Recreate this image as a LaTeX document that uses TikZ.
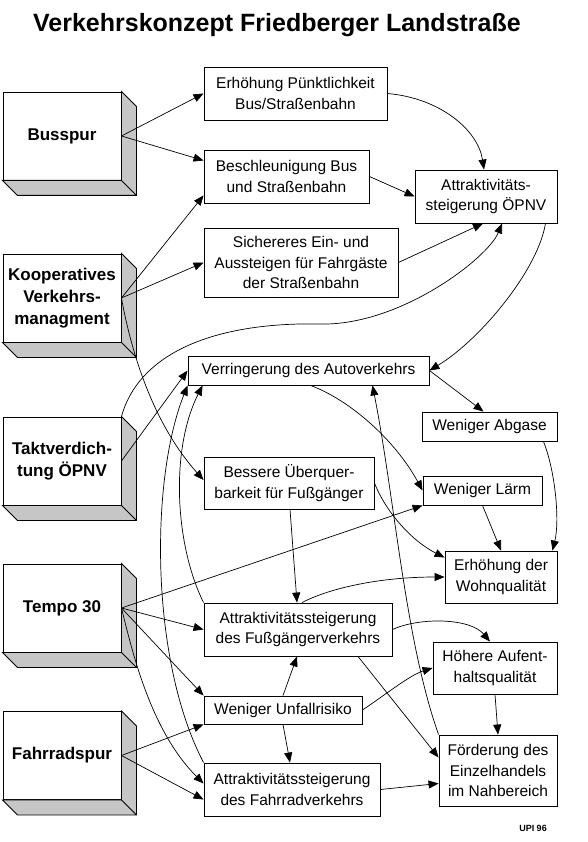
\documentclass[tikz,border=0pt]{standalone}
\usepackage{fontspec}
\setmainfont{Liberation Sans}
\usetikzlibrary{arrows.meta,calc}

\begin{document}
\begin{tikzpicture}[x=1pt,y=-1pt,
  measure/.style={draw,fill=white,line width=0.9pt,minimum width=118pt,minimum height=88pt,inner sep=0pt,align=center,font=\bfseries\fontsize{17}{22}\selectfont},
  effect/.style={draw,fill=white,line width=0.9pt,inner sep=0pt,align=center,font=\fontsize{15.5}{20.5}\selectfont},
  side/.style={draw,fill=gray!45,line width=0.9pt},
  link/.style={line width=0.7pt,-{Triangle[length=10pt,width=8pt]}}]
\useasboundingbox (0,0) rectangle (587,842);
\node[anchor=base,font=\bfseries\fontsize{25}{30}\selectfont] (title) at (277,32) {Verkehrskonzept Friedberger Landstraße};
\node[measure] (bus) at (62,136) {Busspur};
\node[measure] (koop) at (62,298) {Kooperatives\\Verkehrs-\\managment};
\node[measure] (takt) at (62,461) {Taktverdich-\\tung ÖPNV};
\node[measure] (tempo) at (62,608) {Tempo 30};
\node[measure] (rad) at (62,755.5) {Fahrradspur};
\foreach \n in {bus,koop,takt,tempo,rad}
  \draw[side] (\n.north east) -- ([shift={(15,15)}]\n.north east) -- ([shift={(15,15)}]\n.south east) -- ([shift={(15,15)}]\n.south west) -- (\n.south west) -- (\n.south east) -- cycle
    (\n.south east) -- ([shift={(15,15)}]\n.south east);
\node[effect,minimum width=183pt,minimum height=53pt] (punkt) at (295.5,93.5) {Erhöhung Pünktlichkeit\\Bus/Straßenbahn};
\node[effect,minimum width=165pt,minimum height=53pt] (beschl) at (286.5,176.5) {Beschleunigung Bus\\und Straßenbahn};
\node[effect,minimum width=194pt,minimum height=69pt] (sicher) at (301,262.5) {Sichereres Ein- und\\Aussteigen für Fahrgäste\\der Straßenbahn};
\node[effect,minimum width=142pt,minimum height=53pt] (oepnv) at (486,196.5) {Attraktivitäts-\\steigerung ÖPNV};
\node[effect,minimum width=241pt,minimum height=29pt] (auto) at (308.5,370.5) {Verringerung des Autoverkehrs};
\node[effect,minimum width=135pt,minimum height=29pt] (abgase) at (489.5,426.5) {Weniger Abgase};
\node[effect,minimum width=170pt,minimum height=52pt] (queren) at (289,483) {Bessere Überquer-\\barkeit für Fußgänger};
\node[effect,minimum width=119pt,minimum height=29pt] (laerm) at (482.5,490.5) {Weniger Lärm};
\node[effect,minimum width=112pt,minimum height=52pt] (wohnen) at (501,577) {Erhöhung der\\Wohnqualität};
\node[effect,minimum width=188pt,minimum height=53pt] (fuss) at (298,629.5) {Attraktivitätssteigerung\\des Fußgängerverkehrs};
\node[effect,minimum width=124pt,minimum height=52pt] (aufent) at (495,668) {Höhere Aufent-\\haltsqualität};
\node[effect,minimum width=158pt,minimum height=28pt] (unfall) at (283,710) {Weniger Unfallrisiko};
\node[effect,minimum width=176pt,minimum height=53pt] (velo) at (292,789.5) {Attraktivitätssteigerung\\des Fahrradverkehrs};
\node[effect,minimum width=118pt,minimum height=71pt] (handel) at (498,770.5) {Förderung des\\Einzelhandels\\im Nahbereich};
\node[font=\bfseries\fontsize{9}{10}\selectfont] (upi) at (533,828) {UPI 96};
\draw[link] (bus.east) -- (punkt.west);
\draw[link] (bus.east) -- ($(beschl.west)+(0,-16)$);
\draw[link] (koop.east) -- ($(beschl.south west)+(0,-8)$);
\draw[link] (koop.east) -- (sicher.west);
\draw[link] (koop.east) .. controls (130,345) and (150,420) .. ($(queren.west)+(0,-3)$);
\draw[link] (takt.north east) .. controls (140,350) and (220,322) .. (320,324) .. controls (400,326) and (488,258) .. ($(oepnv.south)+(16,0)$);
\draw[link] (takt.east) -- (auto.west);
\draw[link] (punkt.east) .. controls (440,98) and (478,130) .. ($(oepnv.north)+(-2,0)$);
\draw[link] (beschl.east) -- (oepnv.west);
\draw[link] (sicher.east) -- ($(oepnv.south)+(-3,0)$);
\draw[link] ($(oepnv.south east)+(-12,0)$) .. controls (538,270) and (480,340) .. (auto.east);
\draw[link] (auto.east) -- ($(abgase.north)+(-6,0)$);
\draw[link] ($(auto.south)+(2,0)$) .. controls (350,400) and (395,440) .. (laerm.west);
\draw[link] ($(abgase.south east)+(-14,0)$) .. controls (555,470) and (560,520) .. ($(wohnen.north east)+(-5,0)$);
\draw[link] (laerm.south) -- (wohnen.north);
\draw[link] (queren.east) .. controls (385,510) and (410,540) .. ($(wohnen.north west)+(0,7)$);
\draw[link] ($(queren.south)+(1,0)$) -- ($(fuss.north)+(-1,0)$);
\draw[link] ($(fuss.north)+(4,0)$) .. controls (330,588) and (380,577) .. (wohnen.west);
\draw[link] (fuss.east) .. controls (420,617) and (470,618) .. ($(aufent.north)+(-5,0)$);
\draw[link] ($(fuss.south)+(60,0)$) -- ($(handel.west)+(0,-13)$);
\draw[link] (unfall.north) -- ($(fuss.south)+(-1,0)$);
\draw[link] (unfall.south) -- ($(velo.north)+(-2,0)$);
\draw[link] (unfall.east) .. controls (385,695) and (410,675) .. (aufent.west);
\draw[link] (aufent.south) -- (handel.north);
\draw[link] (velo.east) -- ($(handel.west)+(0,13)$);
\draw[link] (handel.north west) .. controls (405,640) and (395,500) .. ($(auto.south)+(64,0)$);
\draw[link] (velo.north west) .. controls (150,660) and (150,480) .. (auto.south west);
\draw[link] (fuss.north west) .. controls (175,545) and (170,450) .. ($(auto.south west)+(15,0)$);
\draw[link] (tempo.east) -- (laerm.south west);
\draw[link] (tempo.east) -- (fuss.west);
\draw[link] (tempo.east) -- (unfall.north west);
\draw[link] (tempo.east) .. controls (132,650) and (150,730) .. ($(velo.west)+(0,-6)$);
\draw[link] (rad.east) -- (unfall.south west);
\draw[link] (rad.east) -- ($(velo.west)+(0,10)$);
\end{tikzpicture}
\end{document}
